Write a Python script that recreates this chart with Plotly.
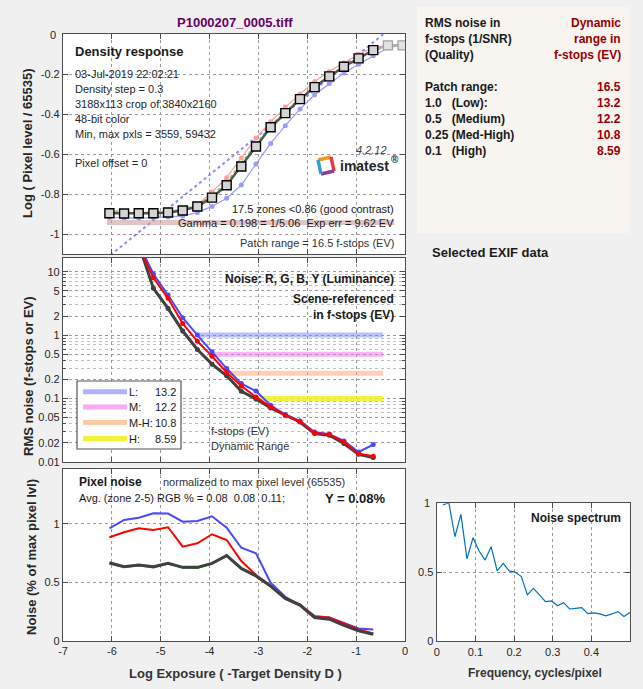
import plotly.graph_objects as go

# ---------------- data ----------------
title_text = "P1000207_0005.tiff"

log_exposure = [-6.05, -5.75, -5.45, -5.15, -4.85, -4.55, -4.25, -3.95, -3.65, -3.35, -3.05,
                -2.75, -2.45, -2.15, -1.85, -1.55, -1.25, -0.95, -0.65, -0.35, -0.05]

density_Y = [-0.896, -0.897, -0.896, -0.896, -0.892, -0.882, -0.862, -0.818, -0.756, -0.662, -0.562,
             -0.466, -0.395, -0.325, -0.265, -0.211, -0.163, -0.121, -0.080, -0.056, -0.056]
density_R = [-0.897, -0.897, -0.896, -0.895, -0.890, -0.879, -0.856, -0.790, -0.718, -0.620, -0.520,
             -0.438, -0.365, -0.300, -0.237, -0.187, -0.143, -0.101, -0.066, -0.056, -0.056]
density_G = [-0.880, -0.893, -0.893, -0.892, -0.887, -0.876, -0.852, -0.808, -0.740, -0.645, -0.550,
             -0.458, -0.390, -0.322, -0.262, -0.210, -0.164, -0.122, -0.082, -0.059, -0.059]
density_B = [-0.917, -0.920, -0.920, -0.918, -0.915, -0.910, -0.892, -0.862, -0.821, -0.755, -0.650,
             -0.547, -0.458, -0.375, -0.303, -0.247, -0.194, -0.151, -0.108, -0.068, -0.056]

gamma_fit_x = [-6.6, 0.0]
gamma_fit_y = [-1.219, 0.088]
exp_err_bar_x = [-6.1, -0.22]
exp_err_bar_y = [-0.942, -0.942]

noise_x = log_exposure[:19]
noise_B = [200, 80, 27.6, 9.2, 4.3, 1.88, 1.0, 0.545, 0.297, 0.172, 0.131,
           0.0784, 0.0558, 0.0443, 0.0297, 0.0273, 0.0214, 0.01435, 0.01875]
noise_R = [190, 75, 25, 8.05, 3.8, 1.53, 0.80, 0.466, 0.257, 0.158, 0.106,
           0.0738, 0.0545, 0.0438, 0.0286, 0.0273, 0.0206, 0.0135, 0.0123]
noise_G = [180, 70, 26, 5.6, 2.7, 1.18, 0.60, 0.35, 0.23, 0.131, 0.099,
           0.071, 0.0545, 0.043, 0.028, 0.0265, 0.0197, 0.0133, 0.0118]
noise_Y = [180, 70, 27, 5.46, 2.64, 1.16, 0.594, 0.348, 0.228, 0.130, 0.0985,
           0.0711, 0.0545, 0.0427, 0.028, 0.0263, 0.0195, 0.0132, 0.0117]

dr_labels = ["L:", "M:", "M-H:", "H:"]
dr_values = ["13.2", "12.2", "10.8", "8.59"]
dr_noise_levels = [1.0, 0.5, 0.25, 0.1]
dr_start_x = [-4.24, -3.95, -3.64, -3.03]
dr_end_x = -0.45
dr_colors = ["rgba(120,130,255,0.5)", "rgba(240,120,240,0.55)", "rgba(255,170,120,0.55)", "rgba(240,240,40,0.85)"]

pix_B = [0.963, 1.034, 1.054, 1.091, 1.089, 1.020, 1.026, 1.066, 0.969, 0.797, 0.749,
         0.497, 0.377, 0.306, 0.214, 0.200, 0.154, 0.106, 0.098]
pix_R = [0.886, 0.929, 0.963, 0.949, 0.972, 0.806, 0.835, 0.912, 0.863, 0.683, 0.563,
         0.471, 0.368, 0.312, 0.206, 0.200, 0.149, 0.098, 0.063]
pix_G = [0.660, 0.630, 0.645, 0.625, 0.660, 0.625, 0.622, 0.660, 0.735, 0.615, 0.553,
         0.466, 0.360, 0.303, 0.198, 0.186, 0.134, 0.086, 0.058]
pix_Y = [0.669, 0.634, 0.649, 0.634, 0.663, 0.629, 0.629, 0.663, 0.729, 0.620, 0.556,
         0.469, 0.363, 0.306, 0.200, 0.186, 0.134, 0.086, 0.057]

spec_freq = [0.0156, 0.0313, 0.0469, 0.0625, 0.0781, 0.0938, 0.1094, 0.125, 0.1406, 0.1563,
             0.1719, 0.1875, 0.2031, 0.2188, 0.2344, 0.25, 0.2656, 0.2813, 0.2969, 0.3125,
             0.3281, 0.3438, 0.3594, 0.375, 0.3906, 0.4063, 0.4219, 0.4375, 0.4531, 0.4688,
             0.4844, 0.5]
spec_val = [0.988, 1.005, 0.758, 0.920, 0.597, 0.751, 0.655, 0.589, 0.686, 0.510,
            0.565, 0.510, 0.500, 0.469, 0.336, 0.384, 0.336, 0.287, 0.292, 0.258,
            0.280, 0.234, 0.239, 0.244, 0.200, 0.205, 0.198, 0.184, 0.198, 0.215,
            0.179, 0.208]

x_ticks = [-7, -6, -5, -4, -3, -2, -1, 0]
x_ticktext = ["-7", "-6", "-5", "-4", "-3", "-2", "-1", "0"]
dens_ticks = [-1, -0.8, -0.6, -0.4, -0.2, 0]
dens_ticktext = ["-1", "-0.8", "-0.6", "-0.4", "-0.2", "0"]
noise_ticks = [0.01, 0.02, 0.05, 0.1, 0.2, 0.5, 1, 2, 5, 10]
noise_ticktext = ["0.01", "0.02", "0.05", "0.1", "0.2", "0.5", "1", "2", "5", "10"]
pix_ticks = [0, 0.5, 1]
pix_ticktext = ["0", "0.5", "1"]
spec_xticks = [0, 0.1, 0.2, 0.3, 0.4]
spec_xticktext = ["0", "0.1", "0.2", "0.3", "0.4"]
spec_yticks = [0, 0.5, 1]
spec_yticktext = ["0", "0.5", "1"]

summary_left = ["Patch range:", "1.0   (Low):", "0.5   (Medium)", "0.25 (Med-High)", "0.1   (High)"]
summary_right = ["16.5", "13.2", "12.2", "10.8", "8.59"]

# ---------------- layout helpers ----------------
W, H = 643, 689
FONT = "Liberation Sans, Arial, Helvetica, sans-serif"
FRAME = "#4d4d4d"
GRID = "#9a9a9a"
TXT = "#1a1a1a"
DARKRED = "#990000"


def px(x):
    return x / W


def py(y):
    return 1 - y / H


def axstyle(**kw):
    d = dict(showline=True, linecolor=FRAME, linewidth=1.2, mirror="ticks", ticks="inside",
             ticklen=5, tickwidth=1, tickcolor=FRAME, showgrid=True, gridcolor=GRID,
             griddash="dot", gridwidth=1, zeroline=False, automargin=False,
             tickfont=dict(size=11, color="#262626", family=FONT), fixedrange=True)
    d.update(kw)
    return d


annotations = []
shapes = []


def txt(x, y, s, size=11, color=TXT, xanchor="left", angle=0):
    annotations.append(dict(x=px(x), y=py(y), xref="paper", yref="paper", text=s, showarrow=False,
                            xanchor=xanchor, yanchor="middle", textangle=angle,
                            font=dict(size=size, color=color, family=FONT)))


fig = go.Figure()

# ---------------- density response (top) ----------------
fig.add_trace(go.Scatter(x=gamma_fit_x, y=gamma_fit_y, mode="lines",
                         line=dict(color="rgba(110,110,255,0.8)", width=2, dash="dot"), xaxis="x", yaxis="y"))
fig.add_trace(go.Scatter(x=exp_err_bar_x, y=exp_err_bar_y, mode="lines",
                         line=dict(color="rgba(200,150,150,0.55)", width=5), xaxis="x", yaxis="y"))
fig.add_trace(go.Scatter(x=log_exposure, y=density_B, mode="lines+markers",
                         line=dict(color="#9a9aff", width=1.2), marker=dict(size=5, color="#9a9aff"),
                         xaxis="x", yaxis="y"))
fig.add_trace(go.Scatter(x=log_exposure, y=density_R, mode="lines+markers",
                         line=dict(color="#ff9c9c", width=1.2), marker=dict(size=5, color="#ff9c9c"),
                         xaxis="x", yaxis="y"))
fig.add_trace(go.Scatter(x=log_exposure, y=density_G, mode="lines",
                         line=dict(color="#66dd66", width=2, dash="dot"), xaxis="x", yaxis="y"))
fig.add_trace(go.Scatter(x=log_exposure[18:], y=density_Y[18:], mode="lines",
                         line=dict(color="#b0b0b0", width=2.5), xaxis="x", yaxis="y"))
fig.add_trace(go.Scatter(x=log_exposure[19:], y=density_Y[19:], mode="markers",
                         marker=dict(symbol="square", size=9, color="#e2e2e2",
                                     line=dict(color="#a0a0a0", width=1.3)), xaxis="x", yaxis="y"))
fig.add_trace(go.Scatter(x=log_exposure[:19], y=density_Y[:19], mode="lines+markers",
                         line=dict(color="#555555", width=2.5),
                         marker=dict(symbol="square", size=9, color="#d4d4d4",
                                     line=dict(color="#000000", width=1.4)), xaxis="x", yaxis="y"))

# ---------------- noise in f-stops (middle) ----------------
for lvl, x0, col in zip(dr_noise_levels, dr_start_x, dr_colors):
    fig.add_trace(go.Scatter(x=[x0, dr_end_x], y=[lvl, lvl], mode="lines",
                             line=dict(color=col, width=5), xaxis="x2", yaxis="y2"))
fig.add_trace(go.Scatter(x=noise_x, y=noise_G, mode="lines+markers", line=dict(color="#00b000", width=1.5),
                         marker=dict(size=4, color="#00b000"), xaxis="x2", yaxis="y2"))
fig.add_trace(go.Scatter(x=noise_x, y=noise_Y, mode="lines+markers", line=dict(color="#404040", width=3),
                         marker=dict(size=5, color="#404040"), xaxis="x2", yaxis="y2"))
fig.add_trace(go.Scatter(x=noise_x, y=noise_B, mode="lines+markers", line=dict(color="#4848ff", width=2),
                         marker=dict(size=5, color="#4848ff"), xaxis="x2", yaxis="y2"))
fig.add_trace(go.Scatter(x=noise_x, y=noise_R, mode="lines+markers", line=dict(color="#ff0000", width=2),
                         marker=dict(size=5, color="#ff0000"), xaxis="x2", yaxis="y2"))

# ---------------- pixel noise (bottom) ----------------
fig.add_trace(go.Scatter(x=noise_x, y=pix_B, mode="lines", line=dict(color="#4848ff", width=2),
                         xaxis="x3", yaxis="y3"))
fig.add_trace(go.Scatter(x=noise_x, y=pix_R, mode="lines", line=dict(color="#ff0000", width=2),
                         xaxis="x3", yaxis="y3"))
fig.add_trace(go.Scatter(x=noise_x, y=pix_G, mode="lines", line=dict(color="#00b000", width=1.5),
                         xaxis="x3", yaxis="y3"))
fig.add_trace(go.Scatter(x=noise_x, y=pix_Y, mode="lines", line=dict(color="#404040", width=3),
                         xaxis="x3", yaxis="y3"))

# ---------------- noise spectrum ----------------
fig.add_trace(go.Scatter(x=spec_freq, y=spec_val, mode="lines", line=dict(color="#0072bd", width=1.2),
                         xaxis="x4", yaxis="y4"))

minor_log = [m * d for d in (0.01, 0.1, 1, 10) for m in range(1, 10)]

# top-edge labels are drawn as annotations (plotly drops them at the subplot edge)
dens_axis_text = dens_ticktext[:-1] + [""]
spec_axis_ytext = spec_yticktext[:-1] + [""]

fig.update_layout(
    width=W, height=H, autosize=False, margin=dict(l=0, r=0, t=0, b=0, pad=0, autoexpand=False),
    paper_bgcolor="#f0f0f0", plot_bgcolor="white", showlegend=False,
    font=dict(family=FONT, size=11, color="#262626"),
    xaxis=axstyle(domain=[px(63), px(405)], range=[-7, 0], anchor="y", tickvals=x_ticks,
                  showticklabels=False),
    yaxis=axstyle(domain=[py(254), py(34)], range=[-1.1, 0.0008], anchor="x", tickmode="array",
                  tickvals=dens_ticks, ticktext=dens_axis_text),
    xaxis2=axstyle(domain=[px(63), px(405)], range=[-7, 0], anchor="y2", tickvals=x_ticks,
                   showticklabels=False),
    yaxis2=axstyle(domain=[py(462), py(258)], type="log", range=[-2.001, 1.216], anchor="x2",
                   tickmode="array", tickvals=noise_ticks, ticktext=noise_ticktext,
                   minor=dict(tickmode="array", tickvals=minor_log, ticks="inside", ticklen=3,
                              tickcolor=FRAME, showgrid=True, gridcolor="#c0c0c0", griddash="dot")),
    xaxis3=axstyle(domain=[px(63), px(405)], range=[-7.0005, 0.0005], anchor="y3", tickvals=x_ticks,
                   ticktext=x_ticktext),
    yaxis3=axstyle(domain=[py(641), py(469)], range=[-0.0005, 1.47], anchor="x3", tickvals=pix_ticks,
                   ticktext=pix_ticktext),
    xaxis4=axstyle(domain=[px(436.7), px(630)], range=[-0.0002, 0.5], anchor="y4", tickvals=spec_xticks,
                   ticktext=spec_xticktext),
    yaxis4=axstyle(domain=[py(641.3), py(503.3)], range=[-0.0005, 1.0008], anchor="x4", tickmode="array",
                   tickvals=spec_yticks, ticktext=spec_axis_ytext),
)

# ---------------- texts ----------------
txt(235, 22, "<b>" + title_text + "</b>", size=13, color="#660066", xanchor="center")

txt(58, 34.5, dens_ticktext[-1], size=11, color="#262626", xanchor="right")
txt(432, 503.5, spec_yticktext[-1], size=11, color="#262626", xanchor="right")

# top panel
txt(28, 143, "<b>Log ( Pixel level / 65535)</b>", size=13, color="#262626", xanchor="center", angle=-90)
txt(73, 51, "<b>Density response</b>", size=13)
for s, yy in [("03-Jul-2019 22:02:21", 73.5), ("Density step = 0.3", 89), ("3188x113 crop of 3840x2160", 104),
              ("48-bit color", 119), ("Min, max pxls = 3559, 59432", 134), ("Pixel offset = 0", 163)]:
    txt(73, yy, s, size=11, color="#262626")
txt(389, 150, "<i>4.2.12</i>", size=11, color="#404040", xanchor="right")
txt(338, 166, "<b>imatest</b>", size=14, color="#262626")
txt(389, 159, "<b>®</b>", size=10, color="#262626")
txt(396, 209, "17.5 zones &lt;0.86 (good contrast)", size=11, xanchor="right")
txt(396, 223, "Gamma = 0.198 = 1/5.06\u00a0 Exp err = 9.62 EV", size=11, xanchor="right")
txt(396, 243, "Patch range = 16.5 f-stops (EV)", size=11, color="#333333", xanchor="right")

# imatest logo icon
logo_segments = [((318, 160), (331, 157), "#f7941d"), ((331, 157), (334, 171), "#e63946"),
                 ((334, 171), (321, 174), "#8e3a96"), ((321, 174), (318, 160), "#2a9fd8")]
for (a, b, col) in logo_segments:
    shapes.append(dict(type="line", xref="paper", yref="paper", x0=px(a[0]), y0=py(a[1]),
                       x1=px(b[0]), y1=py(b[1]), line=dict(color=col, width=3.5)))

# middle panel
txt(28, 376, "<b>RMS noise (f-stops or EV)</b>", size=13, color="#262626", xanchor="center", angle=-90)
txt(396, 279, "<b>Noise: R, G, B, Y (Luminance)</b>", size=12, xanchor="right")
txt(396, 299, "<b>Scene-referenced</b>", size=12, xanchor="right")
txt(396, 315, "<b>in f-stops (EV)</b>", size=12, xanchor="right")
txt(209, 431, "f-stops (EV)", size=11, color="#333333")
txt(209, 446, "Dynamic Range", size=11, color="#333333")

shapes.append(dict(type="rect", xref="paper", yref="paper", x0=px(77), y0=py(449), x1=px(181), y1=py(381),
                   fillcolor="white", line=dict(color="#555555", width=1.2)))
leg_y = [391.7, 406.9, 422.5, 438.5]
leg_colors = ["#b0b4ff", "#f7aaf7", "#ffcaa8", "#f2f23c"]
for lab, val, yy, col in zip(dr_labels, dr_values, leg_y, leg_colors):
    shapes.append(dict(type="line", xref="paper", yref="paper", x0=px(83), y0=py(yy), x1=px(127), y1=py(yy),
                       line=dict(color=col, width=5)))
    txt(127, yy, lab, size=11)
    txt(178, yy, val, size=11, xanchor="right")

# bottom panel
txt(31, 557, "<b>Noise (% of max pixel lvl)</b>", size=13, color="#262626", xanchor="center", angle=-90)
txt(77, 482, "<b>Pixel noise</b>", size=12)
txt(161, 482, "normalized to max pixel level (65535)", size=11, color="#333333")
txt(77, 498, "Avg. (zone 2-5) RGB % = 0.08\u00a0 0.08\u00a0 0.11;", size=11)
txt(388, 498, "<b>Y = 0.08%</b>", size=13, xanchor="right")
txt(235, 673, "<b>Log Exposure ( -Target Density D )</b>", size=13, color="#333333", xanchor="center")

# spectrum
txt(529, 518, "<b>Noise spectrum</b>", size=12)
txt(535, 673, "<b>Frequency, cycles/pixel</b>", size=12, color="#333333", xanchor="center")

# right info panel
shapes.append(dict(type="rect", xref="paper", yref="paper", x0=px(417), y0=py(233), x1=px(630), y1=py(7),
                   fillcolor="#f8f4f0", line=dict(width=0), layer="below"))
for s, yy in [("RMS noise in", 23.3), ("f-stops (1/SNR)", 39.3), ("(Quality)", 55.3)]:
    txt(423, yy, "<b>" + s + "</b>", size=12)
for s, yy in [("Dynamic", 23.3), ("range in", 39.3), ("f-stops (EV)", 55.3)]:
    txt(623, yy, "<b>" + s + "</b>", size=12, color=DARKRED, xanchor="right")
for i, (l, r) in enumerate(zip(summary_left, summary_right)):
    yy = 87.3 + 16 * i
    txt(423, yy, "<b>" + l.replace("  ", "\u00a0 ") + "</b>", size=12)
    txt(623, yy, "<b>" + r + "</b>", size=12, color=DARKRED, xanchor="right")
txt(430, 253, "<b>Selected EXIF data</b>", size=13)

fig.update_layout(annotations=annotations, shapes=shapes)

fig.write_html("out.html", config={"displayModeBar": False, "responsive": False},
               post_script="document.body.style.margin='0';document.documentElement.style.overflow='hidden';")
